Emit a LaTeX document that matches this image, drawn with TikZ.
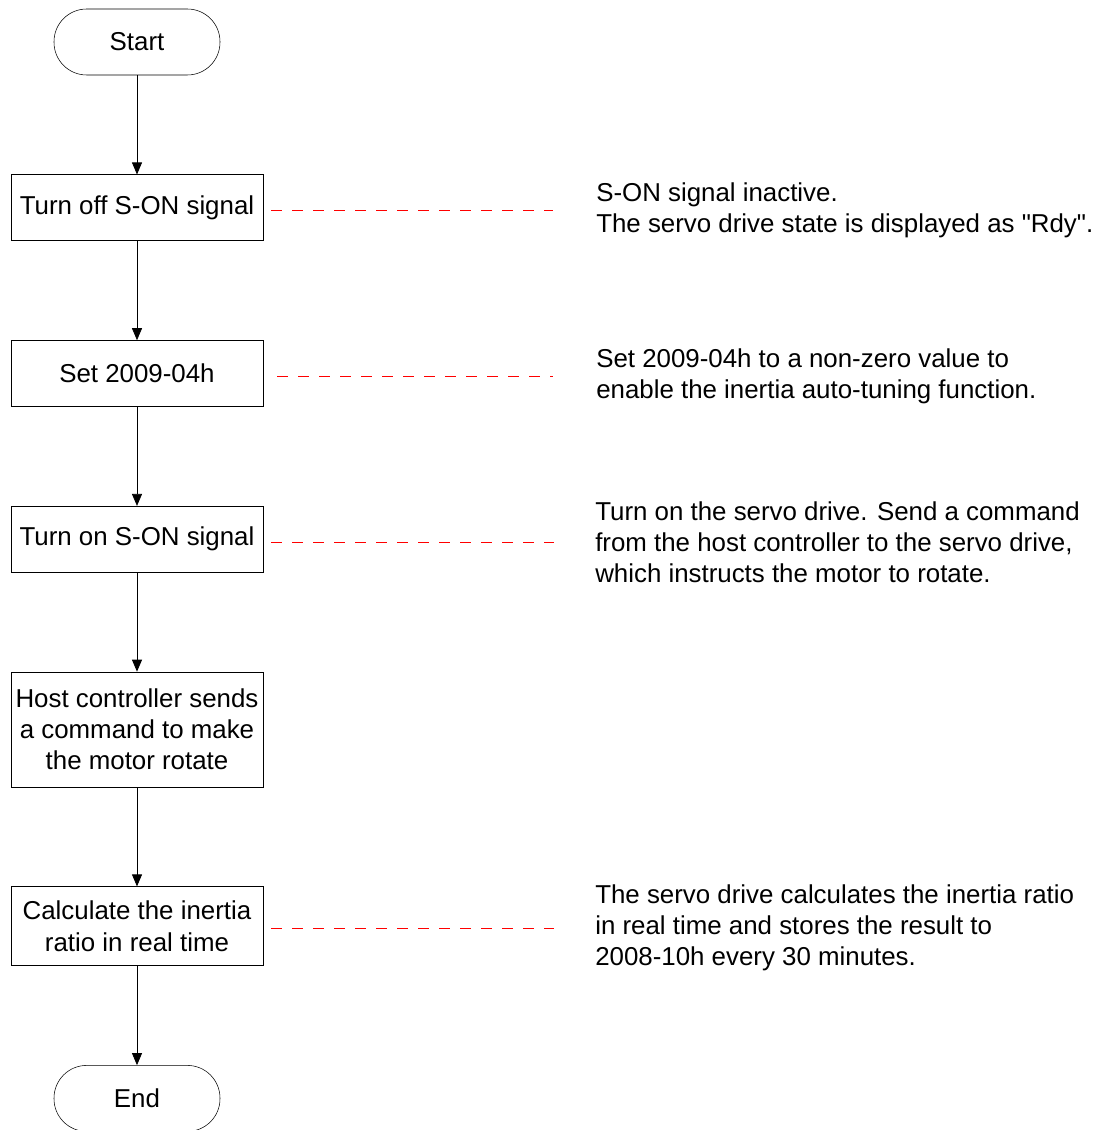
\documentclass[tikz,border=0pt]{standalone}
\usepackage{fontspec}
\setmainfont{Liberation Sans}
\usetikzlibrary{arrows.meta,positioning,shapes.geometric}
\tikzset{
  term/.style={draw,rounded corners=24.5pt,minimum width=124.5pt,minimum height=49.5pt,align=center,inner sep=0pt},
  proc/.style={draw,minimum width=189pt,minimum height=49.5pt,align=center,inner sep=0pt},
  note/.style={align=left,anchor=west,inner sep=0pt},
  arr/.style={-{Triangle[length=9pt,width=7.5pt]},line width=0.6pt},
  lnk/.style={red,line width=0.6pt,dash pattern=on 8.25pt off 7.5pt}
}
\newcommand{\sq}{\XeTeXglyph\XeTeXcharglyph"22\relax}

\begin{document}
\begin{tikzpicture}[x=0.75pt,y=-0.75pt,node distance=74.4pt and 250pt,
  font=\fontsize{19.4}{23.4}\selectfont]
\useasboundingbox (0,0) rectangle (1093,1130);
\node[term] (start) at (137,42) {Start};
\node[proc,below=of start] (off) {Turn off S-ON signal};
\node[proc,below=of off] (set) {Set 2009-04h};
\node[proc,below=of set] (on) {Turn on S-ON signal};
\node[proc,below=of on,minimum height=86.25pt] (host) {Host controller sends\\a command to make\\the motor rotate};
\node[proc,below=of host,minimum height=59.25pt] (calc) {Calculate the inertia\\ratio in real time};
\node[term,below=of calc] (end) {End};
% notes on the right
\node[note] (n1) at (596,210) {S-ON signal inactive.\\The servo drive state is displayed as \sq Rdy\sq.};
\node[note] (n2) at (596,376) {Set 2009-04h to a non-zero value to\\enable the inertia auto-tuning function.};
\node[note] (n3) at (595,542) {Turn on the servo drive. Send a command\\from the host controller to the servo drive,\\which instructs the motor to rotate.};
\node[note] (n5) at (595,928) {The servo drive calculates the inertia ratio\\in real time and stores the result to\\2008-10h every 30 minutes.};
\draw[arr] (start)--(off); \draw[arr] (off)--(set); \draw[arr] (set)--(on);
\draw[arr] (on)--(host); \draw[arr] (host)--(calc); \draw[arr] (calc)--(end);
\draw[lnk,shorten <=6pt,shorten >=32pt] (off.east|-n1.west)--(n1.west);
\draw[lnk,shorten <=10.5pt,shorten >=32pt] (set.east|-n2.west)--(n2.west);
\draw[lnk,shorten <=6pt,shorten >=31pt] (on.east|-n3.west)--(n3.west);
\draw[lnk,shorten <=6pt,shorten >=31pt] (calc.east|-n5.west)--(n5.west);
\end{tikzpicture}
\end{document}
